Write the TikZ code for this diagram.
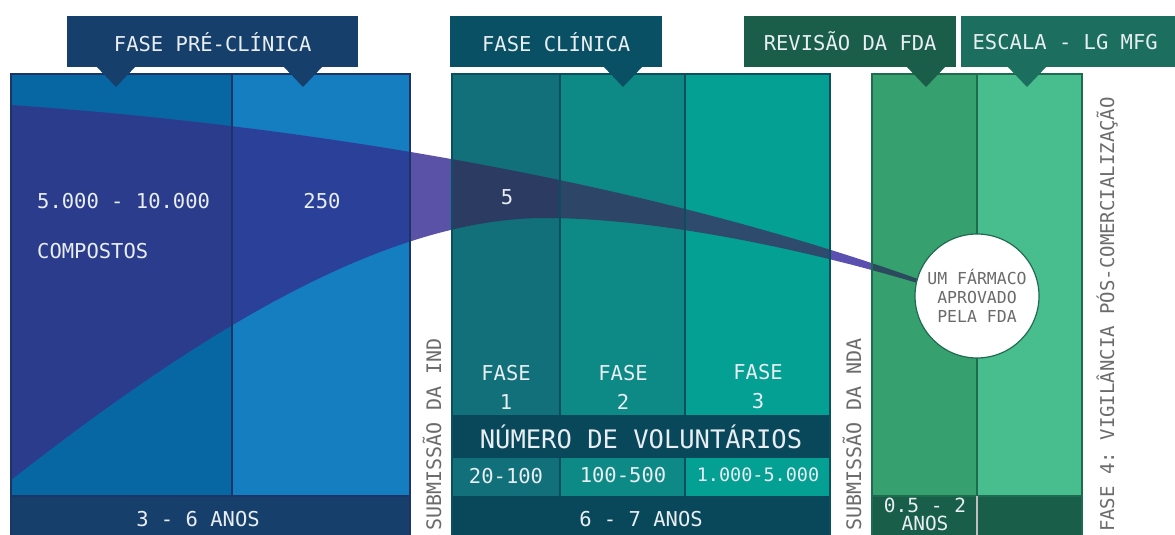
\documentclass[tikz,border=0pt]{standalone}
\usepackage{fontspec}
\setmonofont{DejaVu Sans Mono}

\definecolor{preHead}{HTML}{173F6B}
\definecolor{preA}{HTML}{0767A2}
\definecolor{preB}{HTML}{157EC0}
\definecolor{preLine}{HTML}{1C3468}
\definecolor{cliHead}{HTML}{0A5064}
\definecolor{cliA}{HTML}{11707A}
\definecolor{cliB}{HTML}{0D8986}
\definecolor{cliC}{HTML}{03A093}
\definecolor{cliLine}{HTML}{0B4E5E}
\definecolor{fdaHead}{HTML}{1A5E4A}
\definecolor{mfgHead}{HTML}{1C6E5E}
\definecolor{grnA}{HTML}{36A06E}
\definecolor{grnB}{HTML}{48BD8E}
\definecolor{grnLine}{HTML}{1E6B50}
\definecolor{grnBar}{HTML}{185E48}
\definecolor{txtLight}{HTML}{E8EEF2}
\definecolor{txtGray}{HTML}{6B6B6B}

% the falling number of compounds
\def\bandpath{(11,105) .. controls (300,125) and (650,180) .. (940,287)
  -- (940,290) .. controls (820,252) and (660,218) .. (545,218)
  .. controls (380,218) and (190,340) .. (11,480) -- cycle}

\newcommand{\pin}[2]{\fill[#1] (#2-20,66) -- (#2+20,66) -- (#2,87) -- cycle;}

\begin{document}
\begin{tikzpicture}[x=1pt,y=-1pt,
  header/.style={anchor=north west,minimum height=51pt,inner sep=0pt,text=txtLight,font=\ttfamily\fontsize{20.5}{22}\selectfont},
  lab/.style={text=txtLight,inner sep=0pt,align=center,font=\ttfamily\fontsize{20.5}{29}\selectfont},
  side/.style={rotate=90,anchor=east,inner sep=0pt,text=txtGray,font=\ttfamily\fontsize{20}{22}\selectfont}]
\useasboundingbox (0,0) rectangle (1175,535);
\clip (0,0) rectangle (1175,535);

% columns
\fill[preA] (11,74) rectangle (232,496);
\fill[preB] (232,74) rectangle (410,496);
\fill[cliA] (452,74) rectangle (560,496);
\fill[cliB] (560,74) rectangle (685,496);
\fill[cliC] (685,74) rectangle (830,496);
\fill[grnA] (872,74) rectangle (977,496);
\fill[grnB] (977,74) rectangle (1082,496);

% band, one colour per column
\foreach \xa/\xb/\col in {11/232/2B3C8C,232/410/2B4199,410/452/5A52A6,452/560/2B3B62,
    560/685/2D4668,685/830/2E4B6D,830/872/5B4FB0,872/977/2B4A5E}{
  \begin{scope}
    \clip (\xa,60) rectangle (\xb,500);
    \definecolor{bandcol}{HTML}{\col}
    \fill[bandcol] \bandpath;
  \end{scope}
}

% rows and bars
\fill[cliHead!90!black] (452,415) rectangle (830,458);
\fill[preHead] (11,496) rectangle (410,540);
\fill[cliHead!90!black] (452,496) rectangle (830,540);
\fill[grnBar] (872,496) rectangle (1082,540);

% outlines
\draw[preLine,line width=1.2pt] (11,540) -- (11,74) -- (410,74) -- (410,540);
\draw[preLine,line width=1.2pt] (232,74) -- (232,496) (11,496) -- (410,496);
\draw[cliLine,line width=1.2pt] (452,540) -- (452,74) -- (830,74) -- (830,540);
\draw[cliLine,line width=1.2pt] (560,74) -- (560,415) (685,74) -- (685,415)
  (560,458) -- (560,496) (685,458) -- (685,496);
\draw[grnLine,line width=1.2pt] (872,540) -- (872,74) -- (1082,74) -- (1082,540);
\draw[grnLine,line width=1.2pt] (977,74) -- (977,496) (872,496) -- (1082,496);
\draw[black!25,line width=1.2pt] (977,496) -- (977,540);

% texts
\node[lab,anchor=west] (cmpA) at (37,201) {5.000 - 10.000};
\node[lab,anchor=west] (cmpB) at (37,251) {COMPOSTOS};
\node[lab] (cmp250) at (322,201) {250};
\node[lab] (cmp5) at (507,197) {5};
\node[lab] (ph1) at (506,387) {FASE\\1};
\node[lab] (ph2) at (623,387) {FASE\\2};
\node[lab] (ph3) at (758,387) {FASE\\3};
\node[lab,font=\ttfamily\fontsize{25.5}{28}\selectfont] (vol) at (641,437) {NÚMERO DE VOLUNTÁRIOS};
\node[lab] (vol1) at (506,476) {20-100};
\node[lab] (vol2) at (623,475) {100-500};
\node[lab,font=\ttfamily\fontsize{18.5}{20}\selectfont] (vol3) at (758,475) {1.000-5.000};
\node[lab] (yrsPre) at (198,519) {3 - 6 ANOS};
\node[lab] (yrsCli) at (641,519) {6 - 7 ANOS};
\node[lab,font=\ttfamily\fontsize{19.5}{18}\selectfont] (yrsFda) at (925,514) {0.5 - 2\\ANOS};

\node[side] (ind) at (432,338) {SUBMISSÃO DA IND};
\node[side] (nda) at (852,338) {SUBMISSÃO DA NDA};
\node[side,font=\ttfamily\fontsize{19}{21}\selectfont] (ph4) at (1107,97) {FASE 4: VIGILÂNCIA PÓS-COMERCIALIZAÇÃO};

\node[circle,draw=grnLine,line width=1.2pt,fill=white,minimum size=124pt,inner sep=0pt,
  align=center,text=txtGray,font=\ttfamily\fontsize{16.5}{19}\selectfont] (drug) at (977,296)
  {UM FÁRMACO\\APROVADO\\PELA FDA};

% headers
\node[header,fill=preHead,minimum width=291pt] (hPre) at (67,16) {FASE PRÉ-CLÍNICA};
\node[header,fill=cliHead,minimum width=212pt] (hCli) at (450,16) {FASE CLÍNICA};
\node[header,fill=fdaHead,minimum width=212pt] (hFda) at (744,16) {REVISÃO DA FDA};
\node[header,fill=mfgHead,minimum width=208pt] (hMfg) at (961,16) {ESCALA - LG MFG};
\fill[mfgHead] (hMfg.north east) rectangle (1180,67);
\pin{preHead}{116}
\pin{preHead}{303}
\pin{cliHead}{623}
\pin{fdaHead}{926}
\pin{mfgHead}{1027}
\end{tikzpicture}
\end{document}
